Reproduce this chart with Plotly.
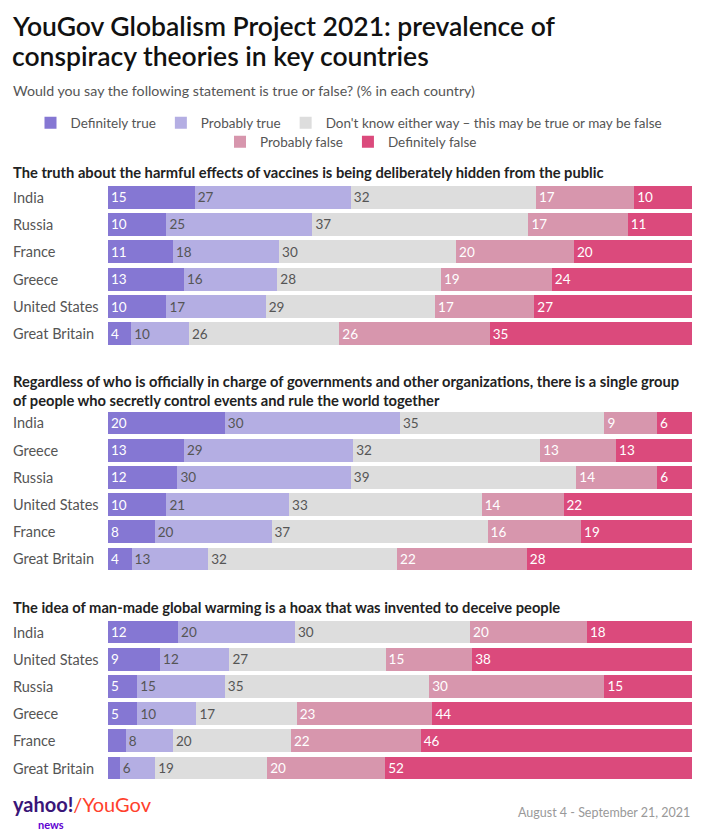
import plotly.graph_objects as go
from plotly.subplots import make_subplots

# answer categories (legend order) and their colours
answers = ["Definitely true", "Probably true",
           "Don't know either way – this may be true or may be false",
           "Probably false", "Definitely false"]
colors = ["#8577d3", "#b4aee3", "#dddddd", "#d796ad", "#db4a7c"]
text_colors = ["white", "#555555", "#555555", "white", "white"]

# statement 1: vaccines
q1_title = "The truth about the harmful effects of vaccines is being deliberately hidden from the public"
q1_countries = ["India", "Russia", "France", "Greece", "United States", "Great Britain"]
q1_def_true = [15, 10, 11, 13, 10, 4]
q1_prob_true = [27, 25, 18, 16, 17, 10]
q1_dont_know = [32, 37, 30, 28, 29, 26]
q1_prob_false = [17, 17, 20, 19, 17, 26]
q1_def_false = [10, 11, 20, 24, 27, 35]

# statement 2: single group controls the world
q2_title = ("Regardless of who is officially in charge of governments and other organizations, there is a single group<br>"
            "of people who secretly control events and rule the world together")
q2_countries = ["India", "Greece", "Russia", "United States", "France", "Great Britain"]
q2_def_true = [20, 13, 12, 10, 8, 4]
q2_prob_true = [30, 29, 30, 21, 20, 13]
q2_dont_know = [35, 32, 39, 33, 37, 32]
q2_prob_false = [9, 13, 14, 14, 16, 22]
q2_def_false = [6, 13, 6, 22, 19, 28]

# statement 3: global warming hoax
q3_title = "The idea of man-made global warming is a hoax that was invented to deceive people"
q3_countries = ["India", "United States", "Russia", "Greece", "France", "Great Britain"]
q3_def_true = [12, 9, 5, 5, 3, 2]
q3_prob_true = [20, 12, 15, 10, 8, 6]
q3_dont_know = [30, 27, 35, 17, 20, 19]
q3_prob_false = [20, 15, 30, 23, 22, 20]
q3_def_false = [18, 38, 15, 44, 46, 52]

sections = [
    (q1_title, q1_countries, [q1_def_true, q1_prob_true, q1_dont_know, q1_prob_false, q1_def_false]),
    (q2_title, q2_countries, [q2_def_true, q2_prob_true, q2_dont_know, q2_prob_false, q2_def_false]),
    (q3_title, q3_countries, [q3_def_true, q3_prob_true, q3_dont_know, q3_prob_false, q3_def_false]),
]

FONT = "Lato, 'Open Sans', sans-serif"
OFF = 8              # page body margin of the browser
W, H = 705 - OFF, 835 - OFF


def px_x(x):
    # pixel x in the page -> paper x
    return (x - OFF) / W


def px_y(y):
    # pixel y (from top of the page) -> paper y
    return 1 - (y - OFF) / H


fig = make_subplots(rows=3, cols=1)

for row, (title, countries, series) in enumerate(sections, start=1):
    for i, vals in enumerate(series):
        fig.add_trace(go.Bar(
            y=countries, x=vals, orientation="h",
            name=answers[i],
            marker=dict(color=colors[i], line=dict(width=0)),
            text=[str(v) if v >= 4 else "" for v in vals],
            textposition="inside", insidetextanchor="start",
            insidetextfont=dict(family=FONT, size=13.5, color=text_colors[i]),
            hoverinfo="skip",
            showlegend=(row == 1),
            legend="legend" if i < 3 else "legend2",
        ), row=row, col=1)

# subplot domains (pixel rows)
domains = [(183.4, 347.6), (409.4, 572.6), (618.4, 781.6)]
for row, (top, bottom) in enumerate(domains, start=1):
    fig.update_yaxes(domain=[px_y(bottom), px_y(top)], autorange="reversed",
                     showticklabels=False, showgrid=False, zeroline=False,
                     row=row, col=1)
    fig.update_xaxes(domain=[px_x(108), px_x(692)], range=[0, 100], visible=False,
                     row=row, col=1)

annotations = []
# section titles
title_y = [172, 390, 607]
for (title, countries, _), ty in zip(sections, title_y):
    annotations.append(dict(
        text="<b>" + title + "</b>", xref="paper", yref="paper",
        x=px_x(11), y=px_y(ty), xanchor="left", yanchor="middle",
        align="left", showarrow=False,
        font=dict(family=FONT, size=14.7, color="#222222")))

# country labels, left aligned
for row, (_, countries, _) in enumerate(sections, start=1):
    yref = "y" if row == 1 else f"y{row}"
    for c in countries:
        annotations.append(dict(
            text=c, xref="paper", yref=yref, x=px_x(11), y=c,
            xanchor="left", yanchor="middle", showarrow=False,
            font=dict(family=FONT, size=14.5, color="#555555")))

# header
header_lines = ["YouGov Globalism Project 2021: prevalence of",
                "conspiracy theories in key countries"]
for line, ly in zip(header_lines, [26, 56]):
    annotations.append(dict(
        text=line, xref="paper", yref="paper", x=px_x(10), y=px_y(ly),
        xanchor="left", yanchor="middle", showarrow=False,
        font=dict(family=FONT, size=26.5, color="#111111", weight=600)))
annotations.append(dict(
    text="Would you say the following statement is true or false? (% in each country)",
    xref="paper", yref="paper", x=px_x(11), y=px_y(90), xanchor="left", yanchor="middle",
    showarrow=False, font=dict(family=FONT, size=14.2, color="#555555")))

# footer
annotations.append(dict(
    text="<b><span style='color:#3a1678'>yahoo!</span></b><span style='color:#ff412c'>/YouGov</span>",
    xref="paper", yref="paper", x=px_x(11), y=px_y(804), xanchor="left", yanchor="middle",
    showarrow=False, font=dict(family=FONT, size=20)))
annotations.append(dict(
    text="<b>news</b>", xref="paper", yref="paper", x=px_x(36), y=px_y(824),
    xanchor="left", yanchor="middle", showarrow=False,
    font=dict(family=FONT, size=11, color="#6001d2")))
annotations.append(dict(
    text="August 4 - September 21, 2021", xref="paper", yref="paper",
    x=px_x(692), y=px_y(812), xanchor="right", yanchor="middle", showarrow=False,
    font=dict(family=FONT, size=12.5, color="#999999")))

legend_style = dict(orientation="h", xanchor="center", yanchor="middle",
                    font=dict(family=FONT, size=13.5, color="#555555"),
                    traceorder="normal", itemwidth=30, bgcolor="rgba(0,0,0,0)")

fig.update_layout(
    width=W, height=H,
    margin=dict(l=0, r=0, t=0, b=0),
    barmode="stack", barnorm="percent", bargap=0.16,
    plot_bgcolor="white", paper_bgcolor="white",
    font=dict(family=FONT, color="#555555"),
    annotations=annotations,
    legend=dict(x=px_x(349), y=px_y(123), **legend_style),
    legend2=dict(x=px_x(351), y=px_y(142), **legend_style),
)

fig.write_html("out.html")
